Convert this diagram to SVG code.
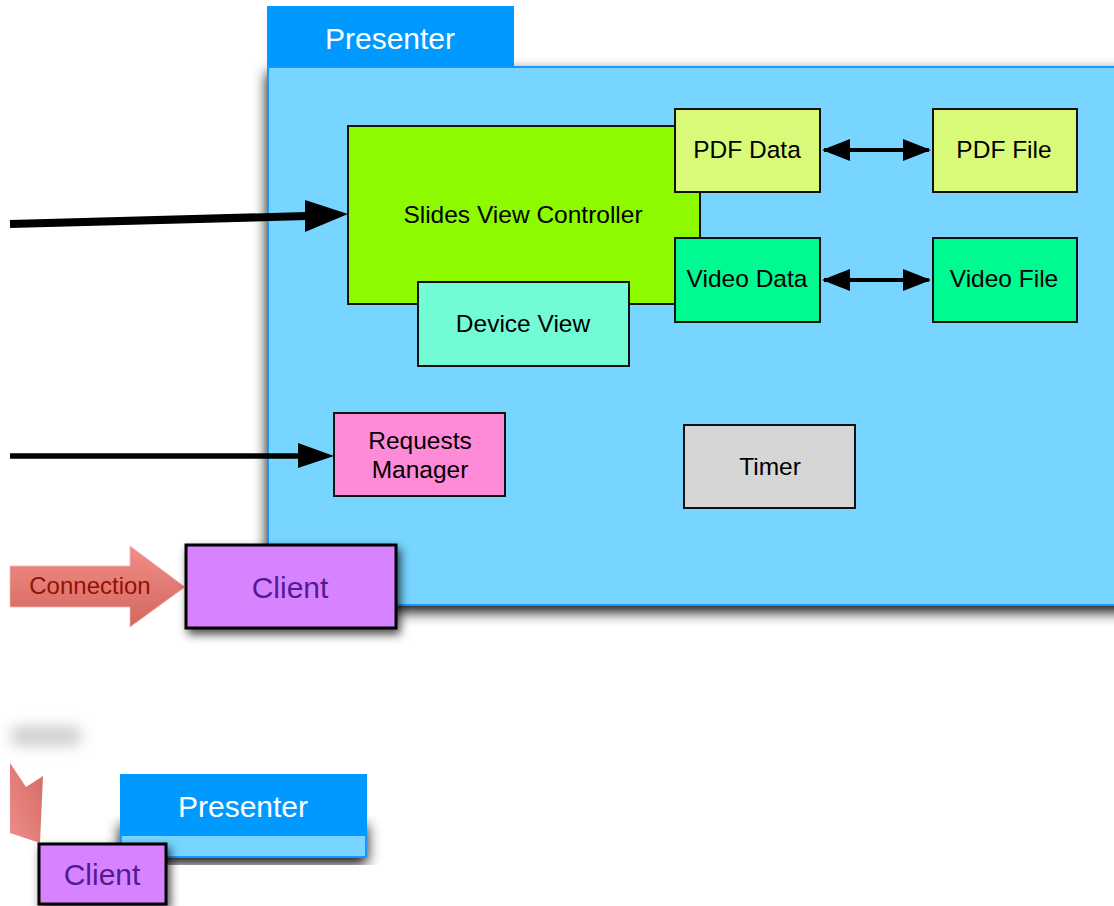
<svg xmlns="http://www.w3.org/2000/svg" width="1114" height="906" viewBox="0 0 1114 906">
  <defs>
    <style>
      .box { stroke: #111; stroke-width: 2; }
      .lbl { font-family: "Liberation Sans", Arial, Helvetica, sans-serif; font-size: 24.5px; fill: #000; text-anchor: middle; }
      .title { font-family: "Liberation Sans", Arial, Helvetica, sans-serif; font-size: 30px; fill: #fff; text-anchor: middle; }
      .client { font-family: "Liberation Sans", Arial, Helvetica, sans-serif; font-size: 30px; fill: #531b93; text-anchor: middle; }
      .conn { font-family: "Liberation Sans", Arial, Helvetica, sans-serif; font-size: 24px; fill: #941100; text-anchor: middle; }
      .panel { fill: #77d5ff; stroke: #1f95ff; stroke-width: 2; }
      .tab { fill: #0099ff; }
      .wire { stroke: #000; fill: none; }
    </style>
    <filter id="panelShadow" x="-10%" y="-10%" width="120%" height="130%">
      <feDropShadow dx="0" dy="6" stdDeviation="7" flood-color="#000" flood-opacity="0.95"/>
    </filter>
    <filter id="boxShadow" x="-15%" y="-20%" width="140%" height="160%">
      <feDropShadow dx="3" dy="5" stdDeviation="5" flood-color="#000" flood-opacity="0.7"/>
    </filter>
    <filter id="haze" x="-50%" y="-150%" width="200%" height="400%">
      <feGaussianBlur stdDeviation="7"/>
    </filter>
    <linearGradient id="pinkArrow" x1="0" y1="0" x2="0" y2="1">
      <stop offset="0" stop-color="#f08e88"/>
      <stop offset="1" stop-color="#d3675f"/>
    </linearGradient>
    <linearGradient id="pinkArrow2" x1="1" y1="0" x2="0" y2="1">
      <stop offset="0" stop-color="#d66a64"/>
      <stop offset="1" stop-color="#ec8e8a"/>
    </linearGradient>
    <marker id="head" viewBox="0 0 28 22" refX="26" refY="11" markerWidth="28" markerHeight="22" markerUnits="userSpaceOnUse" orient="auto-start-reverse">
      <path d="M0,0 L28,11 L0,22 Z" fill="#000"/>
    </marker>
  </defs>

  <rect width="1114" height="906" fill="#fff"/>

  <!-- main presenter panel -->
  <g id="presenter">
    <rect class="panel" x="268" y="67" width="870" height="538" filter="url(#panelShadow)"/>
    <rect class="tab" x="267" y="6" width="247" height="60"/>
    <text class="title" x="390" y="49">Presenter</text>
  </g>

  <g id="slides-view-controller">
    <rect class="box" x="348" y="126" width="352" height="178" fill="#8efa00"/>
    <text class="lbl" x="523" y="223">Slides View Controller</text>
  </g>

  <g id="pdf-data">
    <rect class="box" x="675" y="109" width="145" height="83" fill="#d8fa78"/>
    <text class="lbl" x="747" y="158">PDF Data</text>
  </g>

  <g id="pdf-file">
    <rect class="box" x="933" y="109" width="144" height="83" fill="#d8fa78"/>
    <text class="lbl" x="1004" y="158">PDF File</text>
  </g>

  <g id="video-data">
    <rect class="box" x="675" y="238" width="145" height="84" fill="#00fa92"/>
    <text class="lbl" x="747" y="287">Video Data</text>
  </g>

  <g id="video-file">
    <rect class="box" x="933" y="238" width="144" height="84" fill="#00fa92"/>
    <text class="lbl" x="1004" y="287">Video File</text>
  </g>

  <g id="device-view">
    <rect class="box" x="418" y="282" width="211" height="84" fill="#73fbd6"/>
    <text class="lbl" x="523" y="332">Device View</text>
  </g>

  <g id="requests-manager">
    <rect class="box" x="334" y="413" width="171" height="83" fill="#ff8ad8"/>
    <text class="lbl" x="420" y="449">Requests</text>
    <text class="lbl" x="420" y="478">Manager</text>
  </g>

  <g id="timer">
    <rect class="box" x="684" y="425" width="171" height="83" fill="#d6d6d6"/>
    <text class="lbl" x="770" y="475">Timer</text>
  </g>

  <!-- connectors -->
  <g id="connectors">
    <path class="wire" d="M10,224 L307,216" stroke-width="8"/>
    <path d="M305,200 L348,214 L305,232 Z" fill="#000"/>
    <path class="wire" d="M10,456 L300,456" stroke-width="5.5"/>
    <path d="M298,443 L334,456 L298,468 Z" fill="#000"/>
    <path class="wire" d="M824,150 L929,150" stroke-width="4" marker-start="url(#head)" marker-end="url(#head)"/>
    <path class="wire" d="M824,280 L929,280" stroke-width="4" marker-start="url(#head)" marker-end="url(#head)"/>
  </g>

  <!-- incoming connection -->
  <g id="connection">
    <path d="M10,566 L130,566 L130,546 L185,587 L130,627 L130,607 L10,607 Z" fill="url(#pinkArrow)" stroke="#f6b3ad" stroke-width="0.8"/>
    <text class="conn" x="90" y="594">Connection</text>
  </g>

  <g id="client">
    <rect x="186" y="545" width="210" height="83" fill="#d783ff" stroke="#000" stroke-width="3" filter="url(#boxShadow)"/>
    <text class="client" x="290" y="598">Client</text>
  </g>

  <!-- small preview at the bottom -->
  <g id="preview-haze">
    <rect x="10" y="726" width="72" height="20" rx="9" fill="#a8a8a8" opacity="0.55" filter="url(#haze)"/>
  </g>

  <g id="preview-connection">
    <path d="M10,763 L26,787 L43,776 L40,843 L10,833 Z" fill="url(#pinkArrow2)"/>
  </g>

  <g id="preview-presenter">
    <rect class="panel" x="121" y="820" width="245" height="37" filter="url(#panelShadow)"/>
    <rect class="tab" x="120" y="774" width="247" height="62"/>
    <text class="title" x="243" y="817">Presenter</text>
  </g>

  <g id="preview-client">
    <rect x="39" y="844" width="127" height="60" fill="#d783ff" stroke="#000" stroke-width="3" filter="url(#boxShadow)"/>
    <text class="client" x="102" y="885">Client</text>
  </g>
</svg>
